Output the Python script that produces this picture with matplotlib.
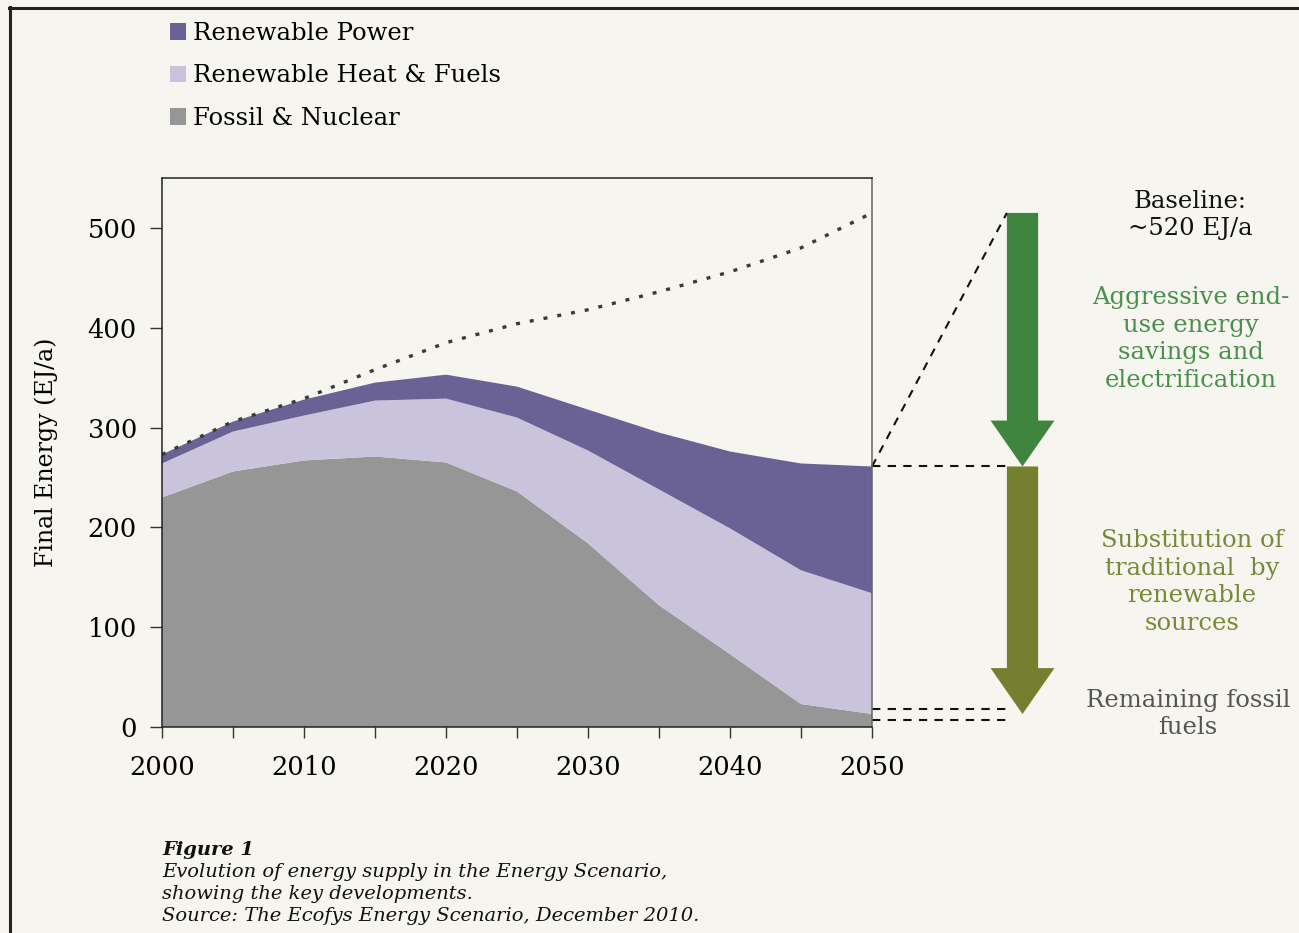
import numpy as np
import matplotlib
matplotlib.use('Agg')
import matplotlib.pyplot as plt
from matplotlib.patches import Patch, FancyArrow
from matplotlib.lines import Line2D

# values (EJ/a)
years = [2000, 2005, 2010, 2015, 2020, 2025, 2030, 2035, 2040, 2045, 2050]
fossil_nuclear = [230, 256, 267, 271, 265, 236, 184, 122, 73, 23, 13]
renewable_heat_fuels = [34, 40, 45, 56, 64, 74, 93, 116, 126, 134, 121]
renewable_power = [9, 10, 16, 18, 24, 31, 41, 57, 77, 107, 127]
baseline = [273, 306, 329, 358, 385, 404, 418, 436, 456, 480, 515]

series_names = ['Fossil & Nuclear', 'Renewable Heat & Fuels', 'Renewable Power']
series_colors = ['#969696', '#c9c4dc', '#6a6295']

bg = '#f6f5f0'
W, H = 1299, 933

plt.rcParams['font.family'] = ['DejaVu Serif']


def fx(x):
    return x / W


def fy(y):
    return 1 - y / H


fig = plt.figure(figsize=(W / 100, H / 100), dpi=100, facecolor=bg)
ax = fig.add_axes([fx(162), fy(727), fx(872) - fx(162), fy(178) - fy(727)])
ax.set_facecolor(bg)

ax.stackplot(years, fossil_nuclear, renewable_heat_fuels, renewable_power,
             colors=series_colors, linewidth=0)
ax.plot(years, baseline, color='#3a3a3a', lw=2.4, linestyle=(0, (1.2, 3.0)))

ax.set_xlim(2000, 2050)
ax.set_ylim(0, 550)
ax.set_xticks(years)
ax.set_xticklabels([str(y) if y % 10 == 0 else '' for y in years])
ax.set_yticks(range(0, 501, 100))
ax.tick_params(axis='x', length=8, width=1, color='#333333', labelsize=18.5, pad=12)
ax.tick_params(axis='y', length=9, width=1, color='#333333', labelsize=18.5, pad=9)
ax.set_ylabel('Final Energy (EJ/a)', fontsize=17)
ax.yaxis.set_label_coords((58 - 162) / 710, 0.5)
for side in ['left', 'bottom', 'top']:
    ax.spines[side].set_color('#222222')
    ax.spines[side].set_linewidth(1.1)
ax.spines['right'].set_color('#666666')
ax.spines['right'].set_linewidth(1.1)

# arrows and guide lines to the right of the plot
total = np.array(fossil_nuclear) + np.array(renewable_heat_fuels) + np.array(renewable_power)
x_arrow = 2060.6
shaft = 2.2
head = 4.5
ax.add_patch(FancyArrow(x_arrow, baseline[-1], 0, total[-1] - baseline[-1], width=shaft,
                        head_width=head, head_length=46, length_includes_head=True,
                        color='#40853f', lw=0, clip_on=False))
ax.add_patch(FancyArrow(x_arrow, total[-1], 0, fossil_nuclear[-1] - total[-1], width=shaft,
                        head_width=head, head_length=46, length_includes_head=True,
                        color='#747f30', lw=0, clip_on=False))

dash = dict(color='#111111', lw=1.5, linestyle=(0, (4, 3.5)), clip_on=False)
x_left = x_arrow - shaft / 2
ax.plot([2050, x_left], [total[-1], baseline[-1]], **dash)
ax.plot([2050, x_left], [total[-1], total[-1]], **dash)
ax.plot([2050, x_left + 0.3], [fossil_nuclear[-1] + 5, fossil_nuclear[-1] + 5], **dash)
ax.plot([2050, x_left + 0.3], [fossil_nuclear[-1] - 6, fossil_nuclear[-1] - 6], **dash)

side_fs = 17.5
ls = 1.27
fig.text(fx(1190), fy(215), 'Baseline:\n~520 EJ/a', ha='center', va='center',
         fontsize=side_fs, color='#111111', linespacing=ls)
fig.text(fx(1191), fy(339), 'Aggressive end-\nuse energy\nsavings and\nelectrification',
         ha='center', va='center', fontsize=side_fs, color='#4a8f4c', linespacing=ls)
fig.text(fx(1192), fy(582), 'Substitution of\ntraditional  by\nrenewable\nsources',
         ha='center', va='center', fontsize=side_fs, color='#7a8838', linespacing=ls)
fig.text(fx(1188), fy(714), 'Remaining fossil\nfuels', ha='center', va='center',
         fontsize=side_fs, color='#555555', linespacing=ls)

# legend at the top left
handles = [Patch(facecolor=c, edgecolor='none') for c in series_colors[::-1]]
fig.legend(handles, series_names[::-1], loc='upper left', bbox_to_anchor=(fx(170), fy(22)),
           frameon=False, fontsize=17.5, handlelength=0.66, handleheight=0.66,
           handletextpad=0.3, labelspacing=0.8, borderpad=0, borderaxespad=0)

# caption
fig.text(fx(162), fy(850), 'Figure 1', fontsize=14, style='italic', weight='bold',
         va='center', color='#111111')
caption = ['Evolution of energy supply in the Energy Scenario,',
           'showing the key developments.',
           'Source: The Ecofys Energy Scenario, December 2010.']
for i, line in enumerate(caption):
    fig.text(fx(162), fy(872 + 22 * i), line, fontsize=14, style='italic',
             va='center', color='#111111')

# frame lines at the top and left of the page
fig.add_artist(Line2D([fx(9), 1], [fy(8), fy(8)], color='#222222', lw=2.2))
fig.add_artist(Line2D([fx(10), fx(10)], [fy(7), 0], color='#222222', lw=2.2))

fig.savefig('out.png', dpi=100, facecolor=bg)
